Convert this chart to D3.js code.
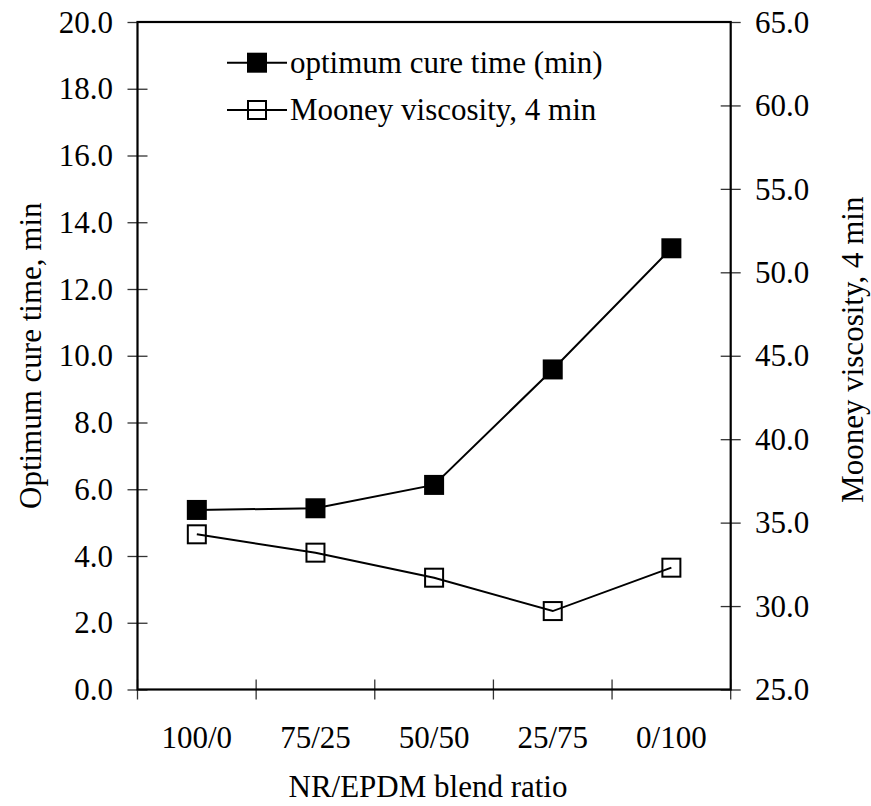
<!DOCTYPE html>
<html>
<head>
<meta charset="utf-8">
<script src="https://cdn.jsdelivr.net/npm/d3@7"></script>
<style>
  html, body { margin: 0; padding: 0; background: #fff; }
  svg text { font-family: "Liberation Serif", "Times New Roman", serif; fill: #000; }
</style>
</head>
<body>
<svg id="chart" width="871" height="806"></svg>
<script>
const categories = ["100/0", "75/25", "50/50", "25/75", "0/100"];
const cureTime = [5.38, 5.43, 6.13, 9.59, 13.22];
const mooney = [34.3, 33.2, 31.7, 29.7, 32.3];
const leftTicks = [0, 2, 4, 6, 8, 10, 12, 14, 16, 18, 20];
const rightTicks = [25, 30, 35, 40, 45, 50, 55, 60, 65];
const seriesNames = ["optimum cure time (min)", "Mooney viscosity, 4 min"];
const xTitle = "NR/EPDM blend ratio";
const yLeftTitle = "Optimum cure time, min";
const yRightTitle = "Mooney viscosity, 4 min";

const FS = 31;
const L = 137.5, R = 730.7, T = 22, B = 689.5;
const svg = d3.select("#chart");

const x = d3.scaleBand().domain(categories).range([L, R]).padding(0);
const yL = d3.scaleLinear().domain([0, 20]).range([B, T]);
const yR = d3.scaleLinear().domain([25, 65]).range([B, T]);
const fmt = d3.format(".1f");

// Left axis
const gL = svg.append("g").attr("transform", `translate(${L},0)`)
  .call(d3.axisLeft(yL).tickValues(leftTicks).tickFormat(fmt).tickSizeInner(10).tickSizeOuter(0).tickPadding(14.5));
gL.select(".domain").remove();
gL.selectAll(".tick line").attr("x1", -10).attr("x2", 10).attr("stroke", "#333").attr("stroke-width", 1.3);
gL.selectAll(".tick text").attr("font-size", FS).attr("dy", "0.33em")
  .style("font-family", "'Liberation Serif', serif");

// Right axis
const gR = svg.append("g").attr("transform", `translate(${R},0)`)
  .call(d3.axisRight(yR).tickValues(rightTicks).tickFormat(fmt).tickSizeInner(10).tickSizeOuter(0).tickPadding(14.3));
gR.select(".domain").remove();
gR.selectAll(".tick line").attr("x1", -10).attr("x2", 10).attr("stroke", "#333").attr("stroke-width", 1.3);
gR.selectAll(".tick text").attr("font-size", FS).attr("dy", "0.33em")
  .style("font-family", "'Liberation Serif', serif");
// top tick only outward (at corner)
gR.selectAll(".tick").filter(d => d === 65).select("line").attr("x1", 0);
gL.selectAll(".tick").filter(d => d === 20).select("line").attr("x2", 0);

// Bottom axis: category labels
const gB = svg.append("g").attr("transform", `translate(0,${B})`)
  .call(d3.axisBottom(x).tickSize(0).tickPadding(0));
gB.select(".domain").remove();
gB.selectAll(".tick text").attr("font-size", FS).attr("y", 58.5).attr("dy", 0)
  .style("font-family", "'Liberation Serif', serif");

// Bottom boundary ticks
const boundaries = categories.map(c => x(c)).concat([x(categories[categories.length - 1]) + x.bandwidth()]);
svg.append("g").selectAll("line").data(boundaries).join("line")
  .attr("x1", d => d).attr("x2", d => d)
  .attr("y1", B - 10).attr("y2", B + 10)
  .attr("stroke", "#333").attr("stroke-width", 1.3);

// Frame
svg.append("rect").attr("x", L).attr("y", T).attr("width", R - L).attr("height", B - T)
  .attr("fill", "none").attr("stroke", "#000").attr("stroke-width", 2.2);

// Titles
svg.append("text").attr("x", 428).attr("y", 796.5).attr("text-anchor", "middle")
  .attr("font-size", FS).text(xTitle);
svg.append("text").attr("transform", `translate(41,${(T + B) / 2}) rotate(-90)`)
  .attr("text-anchor", "middle").attr("font-size", FS).text(yLeftTitle);
svg.append("text").attr("transform", `translate(863,${(T + B) / 2 - 6}) rotate(-90)`)
  .attr("text-anchor", "middle").attr("font-size", FS).text(yRightTitle);

// Series
const cx = (d, i) => x(categories[i]) + x.bandwidth() / 2;
const line1 = d3.line().x((d, i) => cx(d, i)).y(d => yL(d));
const line2 = d3.line().x((d, i) => cx(d, i)).y(d => yR(d));

svg.append("path").datum(cureTime).attr("d", line1)
  .attr("fill", "none").attr("stroke", "#000").attr("stroke-width", 2);
svg.append("path").datum(mooney).attr("d", line2)
  .attr("fill", "none").attr("stroke", "#000").attr("stroke-width", 2);

svg.append("g").selectAll("rect").data(cureTime).join("rect")
  .attr("x", (d, i) => cx(d, i) - 10).attr("y", d => yL(d) - 10)
  .attr("width", 20).attr("height", 20).attr("fill", "#000");
svg.append("g").selectAll("rect").data(mooney).join("rect")
  .attr("x", (d, i) => cx(d, i) - 9).attr("y", d => yR(d) - 9)
  .attr("width", 18).attr("height", 18).attr("fill", "none")
  .attr("stroke", "#000").attr("stroke-width", 2);

// Legend
const legY = [62.7, 110];
const lg = svg.append("g");
legY.forEach((yy, i) => {
  lg.append("line").attr("x1", 227).attr("x2", 287).attr("y1", yy).attr("y2", yy)
    .attr("stroke", "#000").attr("stroke-width", 2);
  if (i === 0) {
    lg.append("rect").attr("x", 247).attr("y", yy - 10).attr("width", 20).attr("height", 20).attr("fill", "#000");
  } else {
    lg.append("rect").attr("x", 248).attr("y", yy - 9).attr("width", 18).attr("height", 18)
      .attr("fill", "none").attr("stroke", "#000").attr("stroke-width", 2);
  }
  lg.append("text").attr("x", 290).attr("y", yy).attr("dy", "0.33em")
    .attr("font-size", FS).text(seriesNames[i]);
});
</script>
</body>
</html>
